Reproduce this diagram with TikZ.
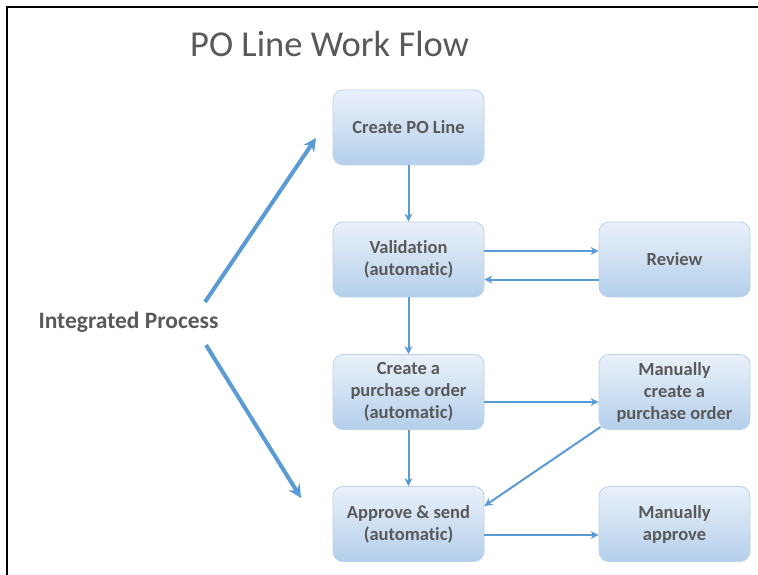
\documentclass[tikz,border=0pt]{standalone}
\usepackage{fontspec}
\setmainfont[Ligatures={NoCommon}]{Carlito}
\usetikzlibrary{arrows.meta}
\definecolor{arrowblue}{HTML}{5B9BD5}
\definecolor{boxtop}{HTML}{EAF1FA}
\definecolor{boxbot}{HTML}{B4CFEB}
\definecolor{boxline}{HTML}{BCD2EA}
\definecolor{txtgray}{HTML}{595959}
\begin{document}
\begin{tikzpicture}[x=1pt,y=-1pt,
  flowbox/.style={draw=boxline, line width=0.8pt, rounded corners=10pt,
    top color=boxtop, bottom color=boxbot, minimum width=151pt, minimum height=75pt,
    align=center, text=txtgray, font=\fontsize{18.5}{22}\selectfont\bfseries, inner sep=2pt},
  thinarrow/.style={draw=arrowblue, line width=2pt, -{Stealth[length=8pt,width=8pt]}},
  thickarrow/.style={draw=arrowblue, line width=4pt, -{Stealth[length=13pt,width=13pt]}}]
\useasboundingbox (0,0) rectangle (758,575);
\fill[white] (0,0) rectangle (758,575);
% frame (left and top)
\draw[line width=2pt, black] (7,575) -- (7,7) -- (758,7);
% title
\node[text=txtgray, font=\fontsize{36.5}{40}\selectfont, anchor=west, inner sep=0pt] (title) at (190,44) {PO Line Work Flow};
% boxes
\node[flowbox] (create) at (408.5,127.5) {Create PO Line};
\node[flowbox] (valid) at (408.5,259.5) {Validation\\(automatic)};
\node[flowbox] (review) at (674.5,259.5) {Review};
\node[flowbox] (cpo) at (408.5,392) {Create a\\purchase order\\(automatic)};
\node[flowbox] (mcpo) at (674.5,392) {Manually\\create a\\purchase order};
\node[flowbox] (appr) at (408.5,524) {Approve \& send\\(automatic)};
\node[flowbox] (mappr) at (674.5,524) {Manually\\approve};
% integrated process
\node[text=txtgray, font=\fontsize{23.5}{26}\selectfont\bfseries] (ip) at (128.5,322) {Integrated Process};
\coordinate (ipu) at (205,302);
\coordinate (ipd) at (206,345);
\coordinate (ipue) at (316,138);
\coordinate (ipde) at (301,498);
% connectors
\draw[thinarrow] (create) -- (valid);
\draw[thinarrow] (valid) -- (cpo);
\draw[thinarrow] (cpo) -- (appr);
\draw[thinarrow] ([yshift=8.5pt]valid.east) -- ([yshift=8.5pt]review.west);
\draw[thinarrow] ([yshift=-20pt]review.west) -- ([yshift=-20pt]valid.east);
\draw[thinarrow] ([yshift=-10pt]cpo.east) -- ([yshift=-10pt]mcpo.west);
\draw[thinarrow] ([xshift=2pt,yshift=3pt]mcpo.south west) -- ([yshift=18pt]appr.east);
\draw[thinarrow] ([yshift=-11pt]appr.east) -- ([yshift=-11pt]mappr.west);
\draw[thickarrow] (ipu) -- (ipue);
\draw[thickarrow] (ipd) -- (ipde);
\end{tikzpicture}
\end{document}
